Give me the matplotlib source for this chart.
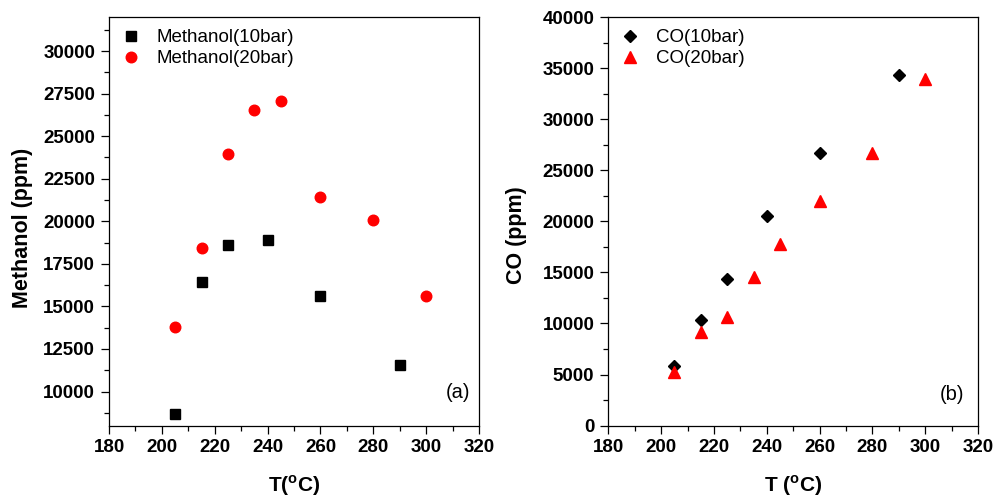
import matplotlib
matplotlib.use("Agg")
import matplotlib.pyplot as plt
from matplotlib.ticker import MultipleLocator

plt.rcParams['font.family'] = ['Liberation Sans', 'DejaVu Sans']
plt.rcParams['mathtext.fontset'] = 'custom'
plt.rcParams['mathtext.rm'] = 'Liberation Sans:bold'

# Panel (a): Methanol
t_meoh10 = [205, 215, 225, 240, 260, 290]
meoh10 = [8710, 16420, 18610, 18910, 15640, 11580]
t_meoh20 = [205, 215, 225, 235, 245, 260, 280, 300]
meoh20 = [13800, 18450, 23950, 26520, 27050, 21450, 20080, 15640]

# Panel (b): CO
t_co10 = [205, 215, 225, 240, 260, 290]
co10 = [5840, 10310, 14390, 20560, 26670, 34340]
t_co20 = [205, 215, 225, 235, 245, 260, 280, 300]
co20 = [5220, 9200, 10600, 14580, 17750, 22030, 26730, 33950]

fig = plt.figure(figsize=(9.94, 4.99), dpi=100)
ax1 = fig.add_axes([0.1097, 0.1471, 0.3722, 0.8188])
ax2 = fig.add_axes([0.6120, 0.1471, 0.3719, 0.8188])

ax1.plot(t_meoh10, meoh10, ls='none', marker='s', ms=7.2, color='black', label='Methanol(10bar)')
ax1.plot(t_meoh20, meoh20, ls='none', marker='o', ms=7.6, color='#ff0000', mec='#ff0000', label='Methanol(20bar)')
ax2.plot(t_co10, co10, ls='none', marker='D', ms=6.4, color='black', label='CO(10bar)')
ax2.plot(t_co20, co20, ls='none', marker='^', ms=9, color='#ff0000', label='CO(20bar)')

ax1.set_ylim(8000, 32000)
ax1.yaxis.set_major_locator(MultipleLocator(2500))
ax1.yaxis.set_minor_locator(MultipleLocator(1250))
ax2.set_ylim(0, 40000)
ax2.yaxis.set_major_locator(MultipleLocator(5000))
ax2.yaxis.set_minor_locator(MultipleLocator(2500))

for ax in (ax1, ax2):
    ax.set_xlim(180, 320)
    ax.xaxis.set_major_locator(MultipleLocator(20))
    ax.xaxis.set_minor_locator(MultipleLocator(10))
    ax.tick_params(which='major', direction='out', length=6, width=0.9, labelsize=13.5, pad=4)
    ax.tick_params(which='minor', direction='out', length=3.5, width=0.9)
    for s in ax.spines.values():
        s.set_linewidth(0.9)
    for lab in ax.get_xticklabels() + ax.get_yticklabels():
        lab.set_fontweight('bold')
    ax.legend(loc='upper left', frameon=False, fontsize=13.5, handlelength=1.0,
              handletextpad=0.9, borderaxespad=0.25, labelspacing=0.2, numpoints=1)

ax1.set_xlabel(r'T($^{\mathregular{o}}$C)', fontsize=15, fontweight='bold', labelpad=12)
ax1.set_ylabel('Methanol (ppm)', fontsize=15.5, fontweight='bold')
ax2.set_xlabel(r'T ($^{\mathregular{o}}$C)', fontsize=15, fontweight='bold', labelpad=12)
ax2.set_ylabel('CO (ppm)', fontsize=15.5, fontweight='bold')
ax1.yaxis.set_label_coords(-0.205, 0.484)
ax2.yaxis.set_label_coords(-0.22, 0.466)

ax1.text(0.976, 0.082, '(a)', transform=ax1.transAxes, ha='right', va='center', fontsize=14.5)
ax2.text(0.962, 0.075, '(b)', transform=ax2.transAxes, ha='right', va='center', fontsize=14.5)

fig.savefig('out.png', dpi=100)
